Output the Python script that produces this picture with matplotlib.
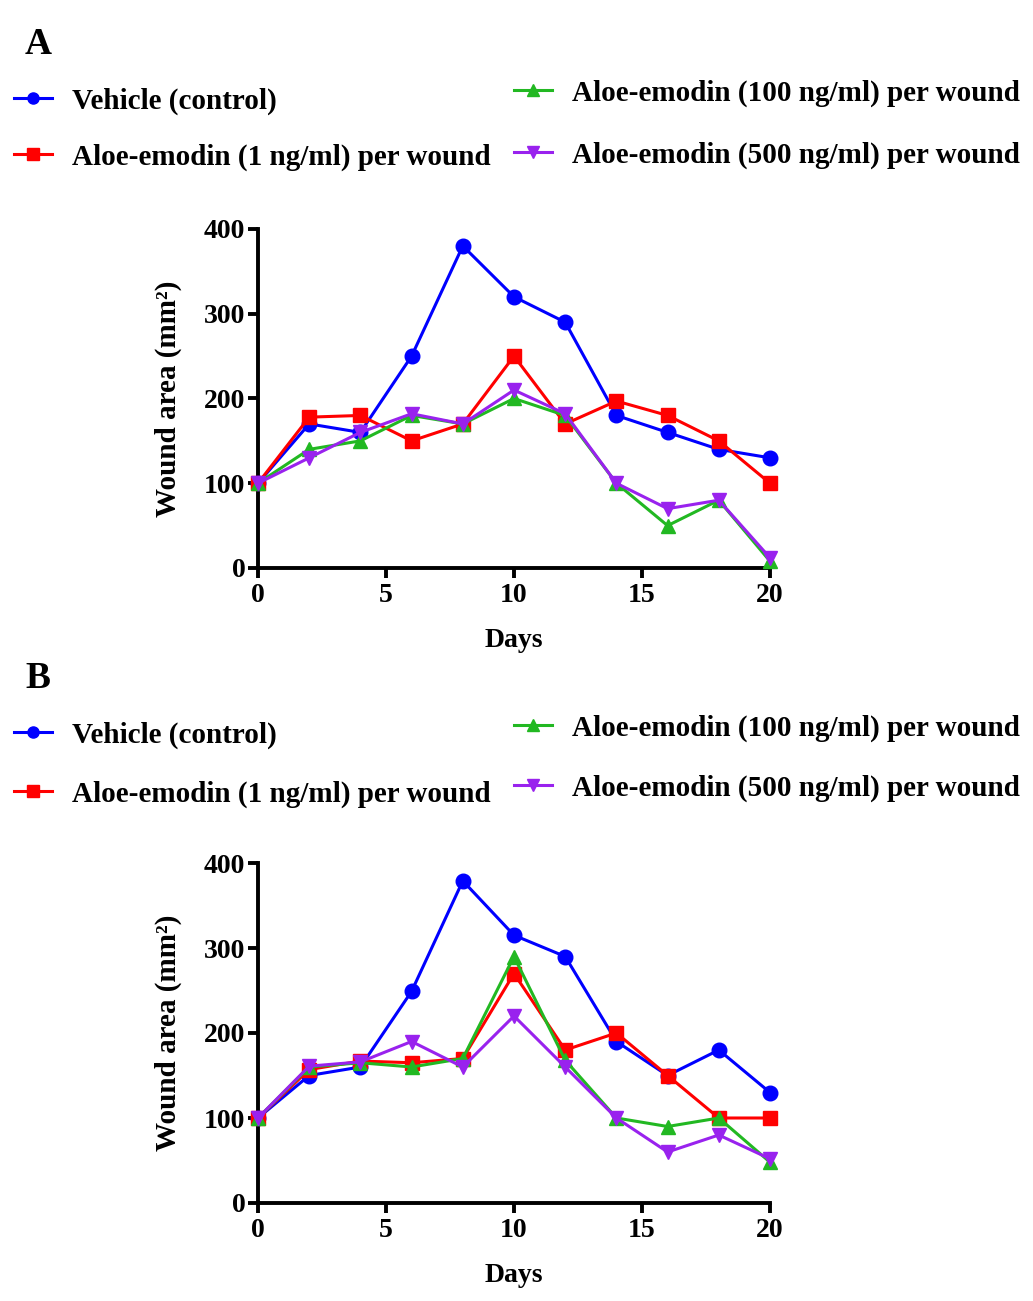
import numpy as np
import matplotlib.pyplot as plt
from matplotlib.lines import Line2D

plt.rcParams['font.family'] = ['Liberation Serif', 'DejaVu Serif']
plt.rcParams['font.weight'] = 'bold'

days = [0, 2, 4, 6, 8, 10, 12, 14, 16, 18, 20]
labels = ["Vehicle (control)",
          "Aloe-emodin (1 ng/ml) per wound",
          "Aloe-emodin (100 ng/ml) per wound",
          "Aloe-emodin (500 ng/ml) per wound"]

# panel A
vehicle_a = [100, 170, 160, 250, 380, 320, 290, 180, 160, 140, 130]
ae1_a = [100, 178, 180, 150, 170, 250, 170, 197, 180, 150, 100]
ae100_a = [100, 140, 150, 180, 170, 200, 180, 100, 50, 80, 8]
ae500_a = [100, 130, 160, 182, 170, 210, 182, 100, 70, 80, 12]

# panel B
vehicle_b = [100, 150, 160, 249, 379, 315, 290, 190, 150, 180, 130]
ae1_b = [100, 157, 167, 165, 170, 270, 180, 200, 150, 100, 100]
ae100_b = [100, 160, 165, 160, 170, 290, 168, 100, 90, 100, 48]
ae500_b = [100, 161, 166, 190, 160, 220, 160, 100, 60, 80, 52]

colors = ['#0000FF', '#FF0000', '#22B822', '#9922EE']
markers = ['o', 's', '^', 'v']

W, H = 1033, 1301
fig = plt.figure(figsize=(W / 100, H / 100), dpi=100)

FS = 20


def panel(top_px, bottom_px, series, letter, letter_y, leg_rows):
    ax = fig.add_axes([258 / W, 1 - bottom_px / H, 512 / W, (bottom_px - top_px) / H])
    lines = []
    for vals, c, m in zip(series, colors, markers):
        ln, = ax.plot(days, vals, color=c, marker=m, markersize=10.5, lw=2.2,
                      clip_on=False, zorder=3)
        lines.append(ln)
    ax.set_xlim(0, 20)
    ax.set_ylim(0, 400)
    ax.set_xticks([0, 5, 10, 15, 20])
    ax.set_yticks([0, 100, 200, 300, 400])
    for s in ['top', 'right']:
        ax.spines[s].set_visible(False)
    for s in ['left', 'bottom']:
        ax.spines[s].set_linewidth(2.8)
    ax.tick_params(width=2.8, length=7, labelsize=FS)
    ax.tick_params(axis='x', pad=4)
    ax.tick_params(axis='y', pad=2)
    for t in ax.get_xticklabels() + ax.get_yticklabels():
        t.set_fontweight('bold')
    ax.set_xlabel('Days', fontsize=FS, fontweight='bold', labelpad=14)
    ax.set_ylabel('Wound area (mm\u00b2)', fontsize=FS + 1, fontweight='bold', labelpad=16)
    fig.text(25 / W, 1 - letter_y / H, letter, fontsize=27, fontweight='bold',
             va='center', ha='left')
    # legend entries placed one by one
    positions = [(14, leg_rows[0]), (14, leg_rows[1]), (514, leg_rows[2]), (514, leg_rows[3])]
    for ln, lab, (px, py) in zip(lines, labels, positions):
        h = Line2D([], [], color=ln.get_color(), marker=ln.get_marker(),
                   markersize=8, lw=2.2)
        fig.legend([h], [lab], loc='center left', bbox_to_anchor=(px / W, 1 - py / H),
                   frameon=False, handlelength=1.3, handletextpad=0.7,
                   borderaxespad=0, borderpad=0, prop={'weight': 'bold', 'size': 21})
    return ax


panel(229, 568, [vehicle_a, ae1_a, ae100_a, ae500_a], 'A', 45, [101, 157, 93, 155])
panel(863, 1203, [vehicle_b, ae1_b, ae100_b, ae500_b], 'B', 678, [735, 794, 728, 788])

fig.savefig('out.png', dpi=100)
